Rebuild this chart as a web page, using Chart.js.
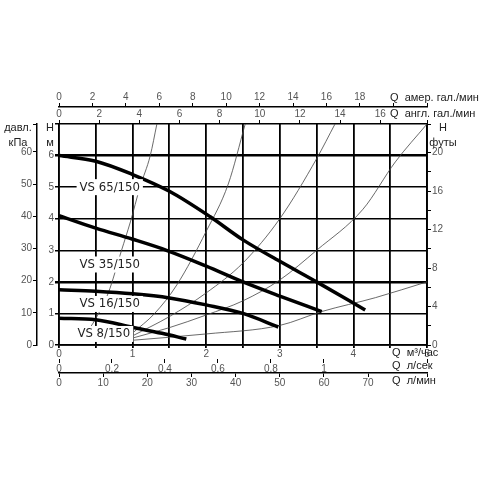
<!DOCTYPE html>
<html><head><meta charset="utf-8">
<script src="https://cdn.jsdelivr.net/npm/chart.js@4/dist/chart.umd.min.js"></script>
<style>html,body{margin:0;background:#fff}#c{width:496px;height:496px}</style>
</head><body><div id="c"><canvas id="chart"></canvas></div>
<script>
// pump curves, Q in m3/h, H in m
const vs65 = [[0,6],[0.5,5.82],[1,5.4],[1.5,4.87],[2.05,4.07],[2.5,3.33],[3,2.65],[3.5,2.0],[4.16,1.11]];
const vs35 = [[0,4.1],[0.5,3.7],[1,3.35],[1.46,3.0],[2,2.5],[2.5,2.0],[3,1.55],[3.57,1.06]];
const vs16 = [[0,1.75],[0.5,1.7],[1,1.62],[1.5,1.49],[2,1.27],[2.5,1.0],[2.98,0.57]];
const vs8 = [[0,0.85],[0.5,0.8],[1,0.56],[1.4,0.37],[1.73,0.19]];
// system curves
const sys1 = [[0.38,0.4],[0.49,0.8],[0.67,1.65],[0.85,3.0],[0.97,3.9],[1.1,5],[1.24,6],[1.33,7]];
const sys2 = [[1.0,0.38],[1.3,1.0],[1.6,1.9],[2.0,3.6],[2.3,5.1],[2.53,7]];
const sys3 = [[1.0,0.29],[1.5,0.9],[2.0,1.65],[2.5,2.6],[3.0,4.0],[3.5,5.9],[3.75,7]];
const sys4 = [[1.0,0.22],[1.5,0.55],[2.0,0.95],[2.5,1.4],[3.0,2.06],[3.5,3.0],[4.13,4.3],[4.57,5.8],[5.0,7]];
const sys5 = [[1.0,0.15],[2.0,0.35],[3.0,0.62],[3.57,1.06],[4.3,1.5],[5.0,2.0]];
const pumpNames = ['VS 65/150','VS 35/150','VS 16/150','VS 8/150'];
const labelAt = [[0.28,5.0],[0.28,2.55],[0.28,1.3],[0.25,0.35]];

const font = {family:'Liberation Sans', size:10};
const toPts = a => a.map(p => ({x:p[0], y:p[1]}));
const pumpSet = d => ({data:toPts(d), showLine:true, pointRadius:0, borderColor:'#000', borderWidth:3.5, cubicInterpolationMode:'monotone', xAxisID:'x', yAxisID:'y'});
const sysSet = d => ({data:toPts(d), showLine:true, pointRadius:0, borderColor:'#444', borderWidth:0.8, cubicInterpolationMode:'monotone', xAxisID:'x', yAxisID:'y'});

const fixW = w => s => { s.width = w; };
const fixH = h => s => { s.height = h; };
const side = (pos, min, max, step, size, opts = {}) => Object.assign({
  type:'linear', position:pos, min, max,
  afterFit: pos === 'top' || pos === 'bottom' ? fixH(size) : fixW(size),
  grid:{drawOnChartArea:false, color:'#000', tickLength:4, lineWidth:1},
  border:{display:false, color:'#000', width:1.5},
  ticks:{stepSize:step, color:'#555', font, padding:1, maxRotation:0, autoSkip:false}
}, opts);

const textPlugin = {
  id:'texts',
  afterDraw(chart) {
    const c = chart.ctx, s = chart.scales;
    c.save();
    c.fillStyle = '#222';
    c.font = '11px "Liberation Sans"';
    c.textBaseline = 'middle';
    const r = (txt, x, y) => { c.textAlign = 'left'; c.fillText(txt, x, y); };
    r('Q  амер. гал./мин', 390, 98);
    r('Q  англ. гал./мин', 390, 114);
    r('Q  м³/час', 392, 353);
    r('Q  л/сек', 392, 366);
    r('Q  л/мин', 392, 381);
    c.textAlign = 'center';
    c.fillText('H', 50, 128);
    c.fillText('м', 50, 143);
    c.fillText('давл.', 18, 128);
    c.fillText('кПа', 18, 143);
    c.fillText('H', 443, 128);
    c.fillText('футы', 443, 143);
    // curve labels
    c.font = '13px "DejaVu Sans Condensed"';
    c.textAlign = 'left';
    pumpNames.forEach((n, i) => {
      const x = s.x.getPixelForValue(labelAt[i][0]);
      const y = s.y.getPixelForValue(labelAt[i][1]);
      const w = c.measureText(n).width;
      c.fillStyle = '#fff';
      c.fillRect(x - 3, y - 8, w + 6, 16);
      c.fillStyle = '#222';
      c.fillText(n, x, y);
    });
    c.restore();
  }
};

new Chart(document.getElementById('chart'), {
  type:'scatter',
  data:{datasets:[pumpSet(vs65), pumpSet(vs35), pumpSet(vs16), pumpSet(vs8),
    sysSet(sys1), sysSet(sys2), sysSet(sys3), sysSet(sys4), sysSet(sys5)]},
  options:{
    responsive:true, maintainAspectRatio:false, animation:false,
    layout:{padding:{left:0, right:29, top:88, bottom:107}},
    plugins:{legend:{display:false}, tooltip:{enabled:false}},
    scales:{
      x:side('bottom', 0, 5, 0.5, 14, {
        grid:{color:'#000', lineWidth:1.8, tickLength:3},
        border:{display:true, color:'#000', width:1.8},
        ticks:{stepSize:0.5, color:'#555', font, padding:0, maxRotation:0, autoSkip:false,
          callback:v => Number.isInteger(v) ? v : ''}
      }),
      lps:side('bottom', 0, 5 / 3.6, 0.2, 14, {ticks:{stepSize:0.2, color:'#555', font, padding:0, maxRotation:0,
        callback:v => v > 1.3 ? '' : (v === 0 ? '0' : v.toFixed(1).replace('.', ',').replace(',0', ''))}}),
      lpm:side('bottom', 0, 5 / 3.6 * 60, 10, 16, {border:{display:true, color:'#000', width:1.5},
        ticks:{stepSize:10, color:'#555', font, padding:0, maxRotation:0, callback:v => v > 75 ? '' : v}}),
      uk:side('top', 0, 5 / 0.2728, 2, 17, {ticks:{stepSize:2, color:'#555', font, padding:0, maxRotation:0, callback:v => v > 17 ? '' : v}}),
      us:side('top', 0, 5 / 0.2271, 2, 19, {border:{display:true, color:'#000', width:1.5},
        ticks:{stepSize:2, color:'#555', font, padding:0, maxRotation:0, callback:v => v > 19 ? '' : v}}),
      y:side('left', 0, 7, 1, 22, {
        grid:{color:'#000', lineWidth:c => (c.tick && (c.tick.value === 2 || c.tick.value === 6)) ? 2.5 : 1.5, tickLength:4},
        border:{display:true, color:'#000', width:1.5},
        ticks:{stepSize:1, color:'#555', font, padding:1, callback:v => v > 6 ? '' : v}
      }),
      kpa:side('left', 0, 7 * 9.81, 10, 37, {border:{display:true, color:'#000', width:1.5},
        ticks:{stepSize:10, color:'#555', font, padding:1, callback:v => v > 60 ? '' : v}}),
      ft:side('right', 0, 7 * 3.281, 2, 40, {border:{display:true, color:'#000', width:1.8},
        ticks:{stepSize:2, color:'#555', font, padding:1, callback:v => (v % 4 === 0 && v <= 20) ? v : ''}})
    }
  },
  plugins:[textPlugin]
});
</script></body></html>
